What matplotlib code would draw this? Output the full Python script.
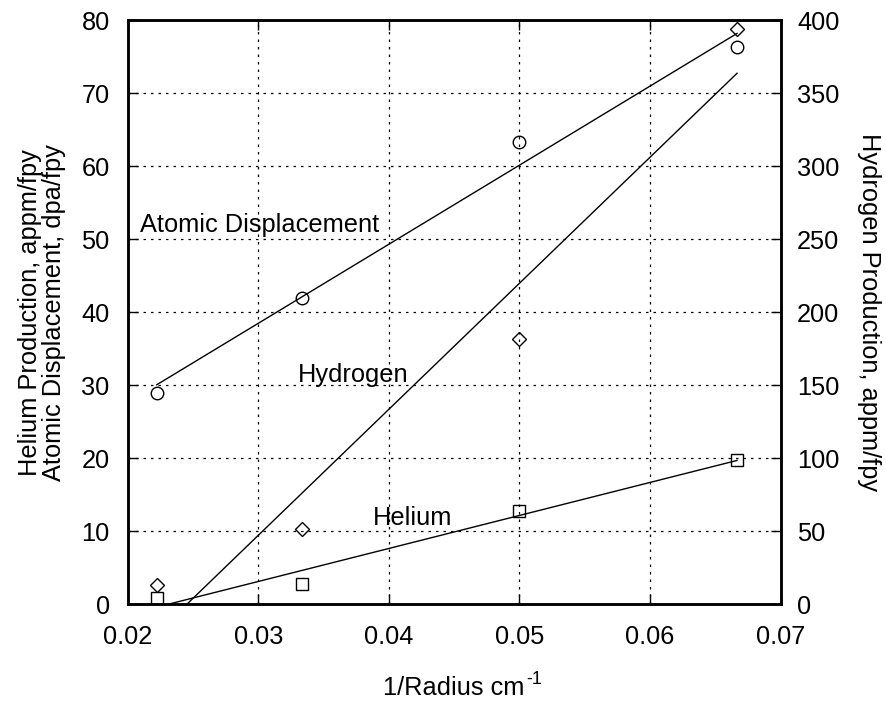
import numpy as np
import matplotlib
matplotlib.use("Agg")
import matplotlib.pyplot as plt

plt.rcParams['font.family'] = ['Liberation Sans', 'DejaVu Sans']

# inverse radius, 1/cm (radii 45, 30, 20, 15 cm)
inv_radius = [1/45, 1/30, 1/20, 1/15]
atomic_disp = [29.0, 42.0, 63.3, 76.3]      # dpa/fpy (left axis)
helium = [0.8, 2.75, 12.8, 19.8]            # appm/fpy (left axis)
hydrogen = [13.0, 51.5, 181.5, 394.0]       # appm/fpy (right axis)

x_ticks = [0.02, 0.03, 0.04, 0.05, 0.06, 0.07]
left_ticks = [0, 10, 20, 30, 40, 50, 60, 70, 80]
right_ticks = [0, 50, 100, 150, 200, 250, 300, 350, 400]

FS = 18.3

fig = plt.figure(figsize=(8.87, 7.06), dpi=100)
ax = fig.add_axes([0.144, 0.144, 0.736, 0.827])
ax2 = ax.twinx()

x = np.array(inv_radius)
xx = np.array([x.min(), x.max()])

def fit_line(xs, ys):
    p = np.polyfit(xs, ys, 1)
    return np.polyval(p, xx)

mk = dict(linestyle='none', markerfacecolor='none', markeredgecolor='black',
          markeredgewidth=1.0)

ax.plot(xx, fit_line(x, atomic_disp), color='black', lw=1.0)
ax.plot(x, atomic_disp, marker='o', markersize=9, **mk)
ax.plot(xx, fit_line(x, helium), color='black', lw=1.0)
ax.plot(x, helium, marker='s', markersize=9, **mk)

ax2.plot(xx, fit_line(x, hydrogen), color='black', lw=1.0)
ax2.plot(x, hydrogen, marker='D', markersize=7, **mk)

ax.set_xlim(0.02, 0.07)
ax.set_ylim(0, 80)
ax2.set_ylim(0, 400)
ax.set_xticks(x_ticks)
ax.set_xticklabels([f"{v:g}" for v in x_ticks])
ax.set_yticks(left_ticks)
ax2.set_yticks(right_ticks)

ax.grid(True, color='black', linestyle=(0, (2, 4)), linewidth=0.9)
ax.tick_params(axis='both', direction='in', length=7, width=1.0, labelsize=FS,
               top=True, bottom=True, left=True, right=False)
ax.tick_params(axis='x', pad=15)
ax.tick_params(axis='y', pad=13)
ax2.tick_params(axis='y', direction='in', length=7, width=1.0, labelsize=FS, pad=12)

for a in (ax, ax2):
    for s in a.spines.values():
        s.set_linewidth(1.8)

ax.text(0.02094, 51.0, "Atomic Displacement", fontsize=FS, va='baseline', ha='left')
ax.text(0.03306, 30.5, "Hydrogen", fontsize=FS, va='baseline', ha='left')
ax.text(0.03881, 10.9, "Helium", fontsize=FS, va='baseline', ha='left')

xl = ax.set_xlabel("1/Radius cm", fontsize=FS, labelpad=19)
ax.set_ylabel("Helium Production, appm/fpy\nAtomic Displacement, dpa/fpy",
              fontsize=FS, labelpad=11, linespacing=1.0)
ax2.set_ylabel("Hydrogen Production, appm/fpy", fontsize=FS, rotation=270,
               labelpad=30)

# superscript "-1" with a plain hyphen, placed after the x label
fig.canvas.draw()
bb = xl.get_window_extent()
baseline = bb.y0 + 0.212 * FS * 100 / 72
fig.text((bb.x1 + 1) / fig.bbox.width, (baseline + 10) / fig.bbox.height, "-1",
         fontsize=13, ha='left', va='baseline')

fig.savefig("out.png", dpi=100)
